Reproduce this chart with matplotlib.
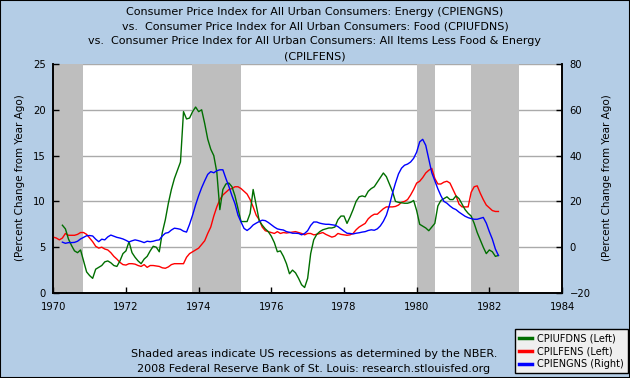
import numpy as np
import matplotlib
matplotlib.use("Agg")
import matplotlib.pyplot as plt
from matplotlib.patches import Rectangle
from matplotlib.lines import Line2D

# CPILFENS, % change from year ago, monthly from Jan 1970
core = [6.1, 6.0, 5.8, 6.0, 6.5, 6.3, 6.3, 6.3, 6.4, 6.6, 6.6, 6.4,
        6.0, 5.6, 5.1, 4.9, 5.0, 4.8, 4.7, 4.4, 4.0, 3.7, 3.35, 3.1,
        3.05, 3.2, 3.2, 3.15, 3.0, 2.9, 3.1, 2.8, 3.0, 3.0, 2.95, 2.9,
        2.75, 2.7, 2.85, 3.1, 3.2, 3.2, 3.2, 3.2, 3.9, 4.3, 4.5, 4.7,
        4.9, 5.3, 5.7, 6.5, 7.2, 8.4, 9.4, 10.2, 10.7, 11.0, 11.3, 11.4,
        11.6, 11.6, 11.4, 11.1, 10.8, 10.2, 9.4, 8.5, 8.0, 7.2, 6.8, 6.7,
        6.6, 6.5, 6.7, 6.5, 6.6, 6.55, 6.6, 6.65, 6.7, 6.6, 6.5, 6.35,
        6.5, 6.5, 6.35, 6.4, 6.5, 6.6, 6.4, 6.25, 6.1, 6.2, 6.5, 6.4,
        6.35, 6.3, 6.35, 6.5, 6.9, 7.2, 7.4, 7.6, 8.1, 8.4, 8.6, 8.6,
        8.9, 9.2, 9.4, 9.4, 9.4, 9.45, 9.6, 9.9, 10.0, 10.2, 10.7, 11.3,
        12.0, 12.2, 12.6, 13.1, 13.4, 13.6, 12.5, 11.9, 11.9, 12.1, 12.2, 12.0,
        11.3, 10.6, 9.7, 9.4, 9.4, 9.4, 11.0, 11.6, 11.7, 10.9, 10.2, 9.6,
        9.3, 9.0, 8.9, 8.9]

# CPIUFDNS, monthly from Apr 1970
food = [7.4, 7.0, 5.9, 5.2, 4.6, 4.4, 4.7, 3.5, 2.3,
        1.9, 1.6, 2.6, 2.8, 3.0, 3.4, 3.5, 3.3, 3.0, 2.9, 3.5, 4.3,
        4.6, 5.6, 4.4, 3.9, 3.5, 3.2, 3.7, 4.0, 4.6, 5.1, 5.0, 4.5,
        6.6, 8.0, 9.8, 11.3, 12.5, 13.4, 14.3, 19.8, 19.0, 19.1, 19.8, 20.3,
        19.8, 20.0, 18.5, 16.8, 15.7, 15.0, 13.2, 9.1, 11.3, 11.9, 12.0, 11.6,
        10.6, 9.2, 7.8, 7.8, 7.8, 8.7, 11.3, 9.6, 7.9, 7.4, 7.0, 6.7,
        6.2, 5.5, 4.5, 4.6, 4.0, 3.2, 2.1, 2.5, 2.2, 1.6, 0.9, 0.6,
        1.6, 4.3, 5.8, 6.4, 6.7, 6.9, 7.0, 7.1, 7.1, 7.2, 8.0, 8.4,
        8.4, 7.6, 8.3, 9.1, 10.0, 10.5, 10.6, 10.5, 11.1, 11.4, 11.6, 12.1,
        12.6, 13.1, 12.7, 11.9, 11.1, 10.0, 9.9, 9.85, 9.8, 9.8, 9.9, 10.1,
        9.0, 7.5, 7.3, 7.1, 6.8, 7.2, 7.6, 9.5, 10.1, 10.3, 10.5, 10.2,
        10.2, 10.6, 10.3, 9.7, 9.1, 8.7, 8.4, 7.6, 6.6, 5.8, 5.0, 4.3,
        4.7, 4.5, 4.0, 4.1]

# CPIENGNS (right axis), monthly from Apr 1970
energy = [2.2, 1.7, 2.0, 2.0, 2.1, 2.6, 3.6, 4.3, 5.0,
          5.1, 4.9, 3.5, 2.4, 3.5, 3.2, 4.5, 5.3, 4.8, 4.3, 4.0, 3.6,
          3.0, 2.3, 2.8, 3.2, 2.9, 2.5, 2.0, 2.6, 2.4, 2.6, 3.0, 3.2,
          4.9, 6.1, 6.4, 7.5, 8.3, 8.1, 7.8, 7.0, 6.6, 10.0, 14.0, 18.5,
          22.5, 26.0, 29.0, 31.8, 33.0, 32.5, 33.4, 33.8, 33.8, 30.0, 26.5, 22.5,
          19.0, 14.0, 11.0, 8.2, 7.3, 8.3, 9.7, 10.5, 11.2, 11.8, 11.6, 10.8,
          9.8, 8.8, 8.0, 7.7, 7.5, 6.8, 6.5, 6.1, 6.1, 6.0, 5.4, 6.0,
          7.2, 9.5, 11.0, 11.0, 10.5, 10.2, 10.0, 10.0, 9.8, 9.6, 9.0, 8.0,
          7.0, 6.1, 6.0, 5.8, 6.1, 6.3, 6.6, 6.8, 7.3, 7.6, 7.4, 8.0,
          9.3, 11.3, 14.0, 18.3, 23.5, 28.0, 32.0, 34.5, 35.8, 36.3, 37.2, 38.8,
          41.5, 46.0, 47.1, 44.5, 38.5, 32.5, 29.0, 25.5, 22.5, 20.0, 19.2, 18.0,
          17.0, 16.4, 15.3, 14.4, 13.5, 12.9, 12.5, 12.2, 12.2, 12.6, 13.0, 10.5,
          6.8, 3.5, -0.8, -3.6]

recessions = [(1969.92, 1970.83), (1973.83, 1975.17), (1980.0, 1980.5), (1981.5, 1982.83)]

title = ("Consumer Price Index for All Urban Consumers: Energy (CPIENGNS)\n"
         "vs.  Consumer Price Index for All Urban Consumers: Food (CPIUFDNS)\n"
         "vs.  Consumer Price Index for All Urban Consumers: All Items Less Food & Energy\n"
         "(CPILFENS)")

bg = "#B4CDE6"
core_x = 1970 + np.arange(len(core)) / 12
food_x = 1970 + (3 + np.arange(len(food))) / 12
energy_x = 1970 + (3 + np.arange(len(energy))) / 12

fig = plt.figure(figsize=(6.3, 3.78), dpi=100, facecolor=bg)
ax = fig.add_axes([53.3 / 630, 1 - 293 / 378, (562 - 53.3) / 630, (293 - 64) / 378])
ax.set_facecolor("white")
ax2 = ax.twinx()

for y in [5, 10, 15, 20, 25]:
    ax.axhline(y, color="#AAAAAA", lw=1.0, zorder=1)
for a, b in recessions:
    ax.axvspan(a, b, color="#BEBEBE", lw=0, zorder=1.5)

ax.plot(core_x, core, color="#FF0000", lw=1.0, zorder=3)
ax.plot(food_x, food, color="#006E00", lw=1.0, zorder=4)
ax2.plot(energy_x, energy, color="#0000FF", lw=1.0)

ax.set_xlim(1970, 1984)
ax.set_ylim(0, 25)
ax2.set_ylim(-20, 80)
ax.set_xticks(range(1970, 1985, 2))
ax.set_yticks(range(0, 26, 5))
ax2.set_yticks(range(-20, 81, 20))

for a in (ax, ax2):
    a.tick_params(direction="in", length=4, width=1, labelsize=7.2, pad=5.5)
    a.spines["top"].set_visible(False)
    for s in ["left", "right", "bottom"]:
        a.spines[s].set_linewidth(1.2)
ax.tick_params(axis="x", pad=6.5)

fig.text(0.5, 1 - 34 / 378, title, ha="center", va="center", fontsize=8, linespacing=1.62)
fig.text(20 / 630, 1 - 178 / 378, "(Percent Change from Year Ago)", rotation=90,
         ha="center", va="center", fontsize=7.5)
fig.text(607 / 630, 1 - 178 / 378, "(Percent Change from Year Ago)", rotation=90,
         ha="center", va="center", fontsize=7.5)
fig.text(314 / 630, 1 - 354 / 378, "Shaded areas indicate US recessions as determined by the NBER.",
         ha="center", va="center", fontsize=8)
fig.text(314 / 630, 1 - 369 / 378, "2008 Federal Reserve Bank of St. Louis: research.stlouisfed.org",
         ha="center", va="center", fontsize=8)

handles = [Line2D([], [], color="#006E00", lw=2.5),
           Line2D([], [], color="#FF0000", lw=2.5),
           Line2D([], [], color="#0000FF", lw=2.5)]
labels = ["CPIUFDNS (Left)", "CPILFENS (Left)", "CPIENGNS (Right)"]
leg = fig.legend(handles, labels, loc="lower right", bbox_to_anchor=(628 / 630, 5 / 378),
                 fontsize=7, frameon=True, fancybox=False, handlelength=1.3,
                 handletextpad=0.6, labelspacing=0.3, borderpad=0.4, borderaxespad=0)
leg.get_frame().set_facecolor("#EFEFEF")
leg.get_frame().set_edgecolor("black")
leg.get_frame().set_alpha(1)

fig.patches.append(Rectangle((0, 0), 1, 1, transform=fig.transFigure, fill=False,
                             edgecolor="black", lw=1.5))
fig.savefig("out.png", dpi=100, facecolor=bg)
